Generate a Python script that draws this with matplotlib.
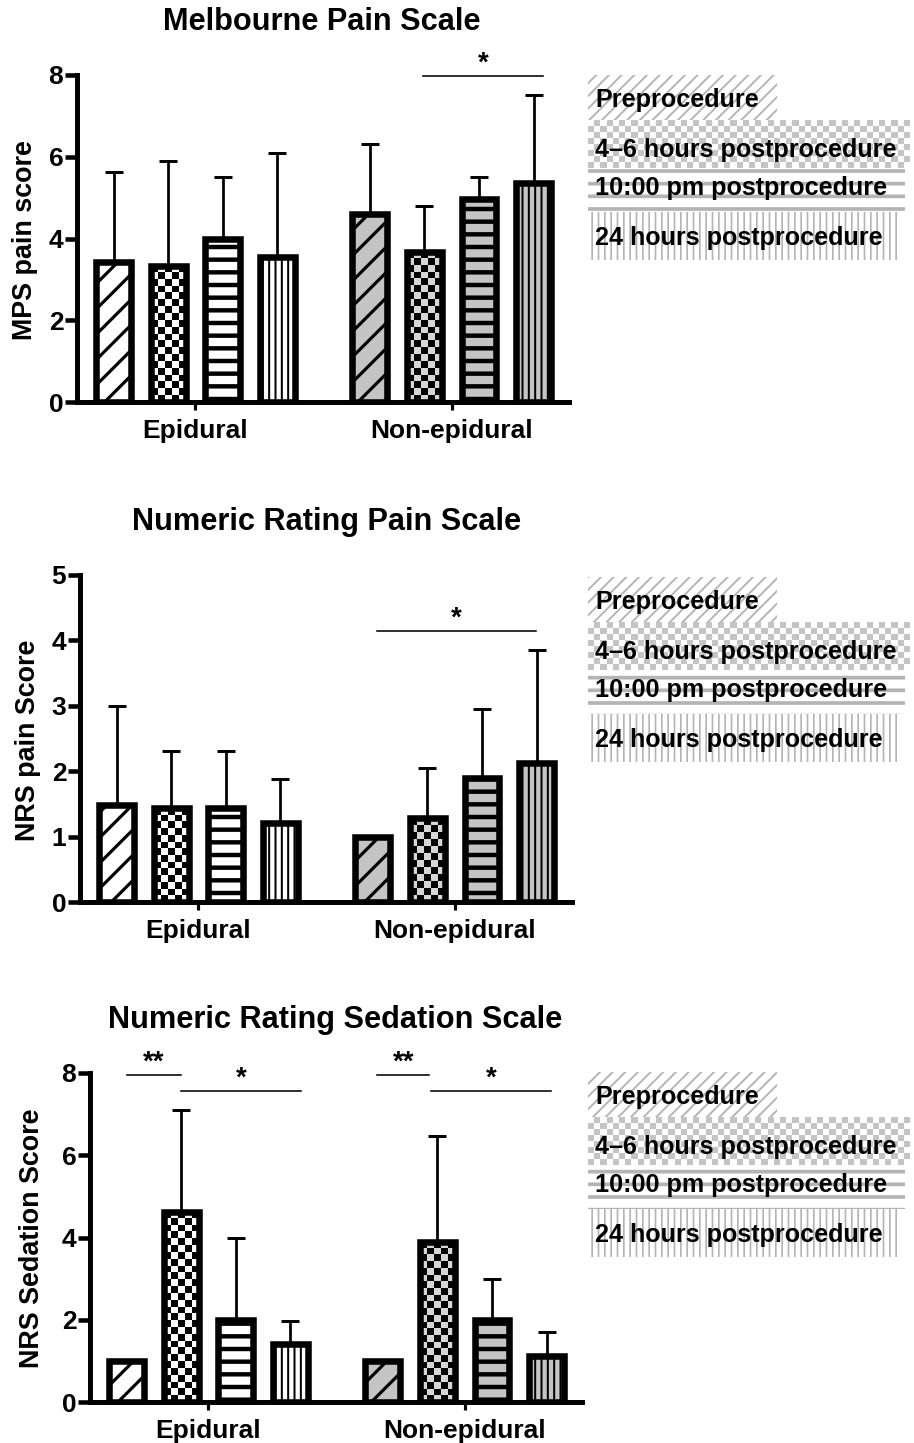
import numpy as np
import matplotlib.pyplot as plt
from matplotlib.patches import Rectangle
from matplotlib.colors import ListedColormap

plt.rcParams['font.family'] = ['Liberation Sans', 'DejaVu Sans']
plt.rcParams['font.weight'] = 'bold'
plt.rcParams['hatch.linewidth'] = 2.5

# ── data ────────────────────────────────────────────────────
groups = ['Epidural', 'Non-epidural']
timepoints = ['Preprocedure', '4–6 hours postprocedure',
              '10:00 pm postprocedure', '24 hours postprocedure']

mps_epi = [3.43, 3.33, 4.0, 3.55]
mps_epi_sd = [2.2, 2.57, 1.5, 2.55]
mps_non = [4.6, 3.67, 4.97, 5.36]
mps_non_sd = [1.72, 1.13, 0.53, 2.16]

nrs_epi = [1.48, 1.43, 1.43, 1.21]
nrs_epi_sd = [1.52, 0.88, 0.88, 0.67]
nrs_non = [1.0, 1.28, 1.9, 2.13]
nrs_non_sd = [0.0, 0.77, 1.05, 1.72]

sed_epi = [1.0, 4.63, 2.0, 1.42]
sed_epi_sd = [0.0, 2.48, 2.0, 0.54]
sed_non = [1.0, 3.9, 2.0, 1.13]
sed_non_sd = [0.0, 2.56, 1.0, 0.57]

# significance brackets: (x from, x to, line level, label)
mps_sig = [(5.68, 7.88, 7.97, '*')]
nrs_sig = [(4.77, 7.69, 4.14, '*')]
sed_sig = [(0.0, 0.99, 7.95, '**'), (1.0, 3.19, 7.57, '*'),
           (4.6, 5.55, 7.95, '**'), (5.58, 7.78, 7.57, '*')]

# ── style / layout ──────────────────────────────────────────
DPI = 76
W_PX, H_PX = 914, 1443
GAP = 4.7          # offset of second group
BAR_W = 0.64
GRAY = '#c4c4c4'
LEG_GRAY = '#b4b4b4'
PATTERNS = ['/', 'checker', '-', '||']
HATCH_LW = {'/': 3.0, '-': 4.2, '||': 1.9}

fig = plt.figure(figsize=(W_PX / DPI, H_PX / DPI), dpi=DPI)


def px_rect(left, right, top, bottom):
    return [left / W_PX, 1 - bottom / H_PX, (right - left) / W_PX, (bottom - top) / H_PX]


def set_hlw(p, lw):
    if hasattr(p, 'set_hatch_linewidth'):
        p.set_hatch_linewidth(lw)


def checker(ax, x0, x1, y0, y1, nx, ny, light, dark, origin='lower', z=2.5):
    arr = np.add.outer(np.arange(ny), np.arange(nx)) % 2
    ax.imshow(arr, cmap=ListedColormap([light, dark]), extent=(x0, x1, y0, y1),
              origin=origin, aspect='auto', interpolation='nearest', zorder=z)


def draw_panel(rect, title, title_xy, ylabel, ylabel_xy, epi, epi_sd, non, non_sd,
               ymax, ystep, sig, star_dy):
    ax = fig.add_axes(px_rect(*rect))
    xs = np.concatenate([np.arange(4), np.arange(4) + GAP])
    means = np.array(epi + non)
    sds = np.array(epi_sd + non_sd)
    xlim = (-0.67, 8.35)
    ax.set_xlim(*xlim)
    ax.set_ylim(0, ymax)

    fills = ['white'] * 4 + [GRAY] * 4
    bars = ax.bar(xs, means, width=BAR_W, color=fills, edgecolor='black',
                  linewidth=0, zorder=2)
    pxu_x = (rect[1] - rect[0]) / (xlim[1] - xlim[0])
    pxu_y = (rect[3] - rect[2]) / ymax
    for i, b in enumerate(bars):
        pat = PATTERNS[i % 4]
        if pat == 'checker':
            light = 'white' if i < 4 else '#d6d6d6'
            nx = max(1, int(round(BAR_W * pxu_x / 6.8)))
            ny = max(1, int(round(means[i] * pxu_y / 6.8)))
            checker(ax, xs[i] - BAR_W / 2, xs[i] + BAR_W / 2, 0, means[i], nx, ny,
                    light, 'black')
        else:
            b.set_hatch(pat)
            set_hlw(b, HATCH_LW[pat])
    ax.bar(xs, means, width=BAR_W, fill=False, edgecolor='black', linewidth=6.2, zorder=3)
    ax.errorbar(xs, means, yerr=[np.zeros_like(sds), sds], fmt='none', ecolor='black',
                elinewidth=2.6, capsize=8.5, capthick=2.8, zorder=1.8)
    ax.set_xlim(*xlim)
    ax.set_ylim(0, ymax)

    for x0, x1, yl, lab in sig:
        ax.plot([x0, x1], [yl, yl], color='black', lw=1.5, clip_on=False)
        ax.text((x0 + x1) / 2, yl + star_dy, lab, ha='center', va='center', fontsize=26,
                clip_on=False)

    for s in ['top', 'right']:
        ax.spines[s].set_visible(False)
    for s in ['left', 'bottom']:
        ax.spines[s].set_linewidth(4.7)
    ax.set_yticks(np.arange(0, ymax + 0.01, ystep))
    ax.set_xticks([1.5, 1.5 + GAP])
    ax.set_xticklabels(groups)
    ax.tick_params(axis='y', direction='out', length=11, width=4.3, labelsize=25, pad=2)
    ax.tick_params(axis='x', direction='out', length=8, width=3, labelsize=25, pad=8)
    ax.patch.set_alpha(0)

    fig.text(title_xy[0] / W_PX, 1 - title_xy[1] / H_PX, title, ha='center', va='center',
             fontsize=29.2)
    fig.text(ylabel_xy[0] / W_PX, 1 - ylabel_xy[1] / H_PX, ylabel, ha='center',
             va='center', rotation=90, fontsize=25.5)
    return ax


draw_panel((77, 569, 75, 402), 'Melbourne Pain Scale', (322, 22), 'MPS pain score', (25, 240),
           mps_epi, mps_epi_sd, mps_non, mps_non_sd, 8, 2, mps_sig, 0.32)
draw_panel((80, 572, 575, 902), 'Numeric Rating Pain Scale', (327, 522), 'NRS pain Score',
           (28, 740), nrs_epi, nrs_epi_sd, nrs_non, nrs_non_sd, 5, 1, nrs_sig, 0.2)
draw_panel((90, 582, 1073, 1402), 'Numeric Rating Sedation Scale', (335, 1020),
           'NRS Sedation Score', (32, 1238), sed_epi, sed_epi_sd, sed_non, sed_non_sd, 8, 2,
           sed_sig, 0.3)

# ── legends (patterned bands with text on top) ──────────────
lax = fig.add_axes([0, 0, 1, 1])
lax.set_xlim(0, W_PX)
lax.set_ylim(H_PX, 0)
lax.axis('off')

band_x = 588
band_h = [45, 48, 44, 48]
band_w = [189, 322, 317, 310]
text_dy = [25, 75, 113, 163]
for top in [75, 577, 1072]:
    y = top
    for k, pat in enumerate(PATTERNS):
        if pat == 'checker':
            checker(lax, band_x, band_x + band_w[k], y + band_h[k], y,
                    int(round(band_w[k] / 6.2)), int(round(band_h[k] / 6.2)),
                    'white', '#c4c4c4', origin='upper', z=1)
        else:
            r = Rectangle((band_x, y), band_w[k], band_h[k], facecolor='white',
                          edgecolor=LEG_GRAY, linewidth=0, hatch='//' if pat == '/' else pat,
                          zorder=1)
            set_hlw(r, {'/': 1.8, '-': 3.5, '||': 1.6}[pat])
            lax.add_patch(r)
        lax.text(band_x + 7, top + text_dy[k], timepoints[k], ha='left', va='center',
                 fontsize=23.8, zorder=3)
        y += band_h[k]
lax.set_xlim(0, W_PX)
lax.set_ylim(H_PX, 0)

fig.savefig('out.png', dpi=DPI, facecolor='white')
